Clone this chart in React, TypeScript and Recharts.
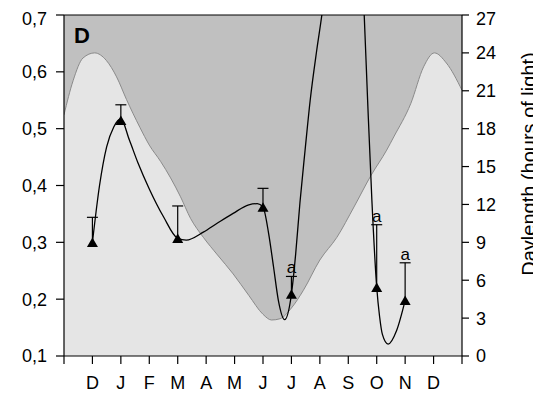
import React from 'react';
import {
  ComposedChart,
  XAxis,
  YAxis,
  Area,
  Line,
  Bar,
  LabelList,
  CartesianGrid,
  ReferenceLine,
} from 'recharts';

// Month labels on the x axis (positions 0 and 14 are the plot edges)
const monthLabels = ['', 'D', 'J', 'F', 'M', 'A', 'M', 'J', 'J', 'A', 'S', 'O', 'N', 'D', ''];
const monthTicks = monthLabels.map((_, i) => i);

// Daylength (hours of light) through the year
const dayMonth = [
  0, 0.32, 0.67, 1.08, 1.49, 1.85, 2.2, 2.67, 3.0, 3.4, 3.75, 4.1, 4.45, 4.9, 5.4, 5.95,
  6.5, 7.0, 7.3, 7.6, 8.0, 8.42, 9.0, 9.6, 10.2, 10.8, 11.35, 11.6, 12.2, 12.65, 13.03,
  13.45, 14.0,
];
const dayHours = [
  19.1, 21.8, 23.6, 24.0, 23.4, 22.1, 20.3, 18.1, 16.7, 15.4, 14.1, 12.6, 10.9, 9.4, 8.0,
  6.5, 4.8, 3.3, 2.85, 2.95, 3.8, 5.2, 7.6, 9.4, 11.8, 14.3, 16.3, 17.35, 20.0, 22.9, 24.0,
  23.2, 21.05,
];

// Sampled means with upper error and significance marks
const sampleMonth = [1, 2, 4, 7, 8, 11, 12];
const sampleMean = [0.3, 0.515, 0.307, 0.362, 0.209, 0.221, 0.198];
const sampleErr = [0.044, 0.027, 0.057, 0.033, 0.031, 0.11, 0.066];
const sampleMark = ['', '', '', '', 'a', 'a', 'a'];

// Smoothed trend through the means
const fitMonth = [
  1, 1.25, 1.5, 1.75, 2, 2.3, 2.6, 3.0, 3.5, 4.0, 4.3, 4.9, 5.4, 5.95, 6.5, 6.8, 7.0, 7.2,
  7.37, 7.54, 7.76, 8.0, 8.15, 8.3, 8.48, 8.66, 8.89, 9.07, 9.5, 9.95, 10.3, 10.56, 10.68,
  10.83, 11.0, 11.1, 11.2, 11.4, 11.7, 12,
];
const fitValue = [
  0.3, 0.4, 0.468, 0.503, 0.517, 0.48, 0.44, 0.394, 0.345, 0.307, 0.304, 0.318, 0.334,
  0.351, 0.366, 0.368, 0.362, 0.315, 0.257, 0.198, 0.164, 0.209, 0.28, 0.37, 0.462, 0.55,
  0.638, 0.7, 0.9, 1.0, 0.93, 0.7, 0.55, 0.374, 0.221, 0.17, 0.138, 0.121, 0.145, 0.198,
];

const leftTicks = [0.1, 0.2, 0.3, 0.4, 0.5, 0.6, 0.7];
const rightTicks = [0, 3, 6, 9, 12, 15, 18, 21, 24, 27];

const dayData = dayMonth.map((m, i) => ({ m, hours: dayHours[i] }));
const fitData = fitMonth.map((m, i) => ({ m, fit: fitValue[i] }));
const sampleData = sampleMonth.map((m, i) => ({
  m,
  mean: sampleMean[i],
  range: [sampleMean[i], sampleMean[i] + sampleErr[i]],
  mark: sampleMark[i],
}));

const FONT = '"Liberation Sans", Arial, sans-serif';
const tickStyle = { fontSize: 18, fill: '#000', fontFamily: FONT };
const CAP = 11;

const ErrorShape = (props: any) => {
  const { x, y, width, height } = props;
  const cx = x + width / 2;
  const top = Math.min(y, y + height);
  const bottom = Math.max(y, y + height);
  return (
    <g stroke="#000" strokeWidth={1.2}>
      <line x1={cx} y1={top} x2={cx} y2={bottom} />
      <line x1={cx - CAP / 2} y1={top} x2={cx + CAP / 2} y2={top} />
    </g>
  );
};

const TriangleDot = (props: any) => {
  const { cx, cy, index } = props;
  if (cx == null || cy == null) return <g key={`t-${index}`} />;
  const w = 11;
  const h = 9.5;
  return (
    <path
      key={`t-${index}`}
      d={`M${cx},${cy - h / 2} L${cx + w / 2},${cy + h / 2} L${cx - w / 2},${cy + h / 2} Z`}
      fill="#000"
      stroke="none"
    />
  );
};

export default function App() {
  return (
    <div style={{ width: 533, height: 388 }}>
      <ComposedChart
        width={533}
        height={388}
        data={sampleData}
        margin={{ top: 7, right: 0, bottom: 0, left: 0 }}
      >
        <CartesianGrid horizontal={false} vertical={false} fill="#c0c0c0" fillOpacity={1} stroke="none" />
        <XAxis
          dataKey="m"
          type="number"
          domain={[0, 14]}
          ticks={monthTicks}
          interval={0}
          tickFormatter={(v: number) => monthLabels[v]}
          allowDataOverflow
          height={40}
          tickSize={8}
          tickMargin={12}
          tick={tickStyle}
          axisLine={{ stroke: '#000', strokeWidth: 1.2 }}
          tickLine={{ stroke: '#000', strokeWidth: 1.2 }}
        />
        <YAxis
          yAxisId="left"
          orientation="left"
          type="number"
          domain={[0.1, 0.7]}
          ticks={leftTicks}
          allowDataOverflow
          width={56}
          tickSize={8}
          tickMargin={9}
          tickFormatter={(v: number) => v.toFixed(1).replace('.', ',')}
          tick={tickStyle}
          axisLine={{ stroke: '#000', strokeWidth: 1.2 }}
          tickLine={{ stroke: '#000', strokeWidth: 1.2 }}
        />
        <YAxis
          yAxisId="right"
          orientation="right"
          type="number"
          domain={[0, 27]}
          ticks={rightTicks}
          width={79}
          tickSize={7}
          tickMargin={7}
          tick={tickStyle}
          axisLine={{ stroke: '#000', strokeWidth: 1.2 }}
          tickLine={{ stroke: '#000', strokeWidth: 1.2 }}
        />
        <Area
          yAxisId="right"
          data={dayData}
          dataKey="hours"
          type="monotone"
          fill="#e5e5e5"
          fillOpacity={1}
          stroke="#8a8a8a"
          strokeWidth={1}
          dot={false}
          activeDot={false}
          isAnimationActive={false}
        />
        <ReferenceLine yAxisId="left" y={0.7} stroke="#000" strokeWidth={1.2} />
        <Line
          yAxisId="left"
          data={fitData}
          dataKey="fit"
          type="monotone"
          stroke="#000"
          strokeWidth={1.3}
          dot={false}
          activeDot={false}
          isAnimationActive={false}
        />
        <Bar
          yAxisId="left"
          dataKey="range"
          barSize={11}
          shape={ErrorShape}
          isAnimationActive={false}
        >
          <LabelList
            dataKey="mark"
            position="top"
            offset={3}
            style={{ fontSize: 17, fill: '#000', fontFamily: FONT }}
          />
        </Bar>
        <Line
          yAxisId="left"
          dataKey="mean"
          stroke="none"
          dot={TriangleDot}
          activeDot={false}
          isAnimationActive={false}
        />
        <text x={66} y={35} fontSize={22} fontWeight="bold" fontFamily={FONT} fill="#000">
          D
        </text>
        <text
          x={528}
          y={156}
          transform="rotate(-90, 528, 156)"
          textAnchor="middle"
          fontSize={20}
          fontFamily={FONT}
          fill="#000"
        >
          Daylength (hours of light)
        </text>
      </ComposedChart>
    </div>
  );
}
